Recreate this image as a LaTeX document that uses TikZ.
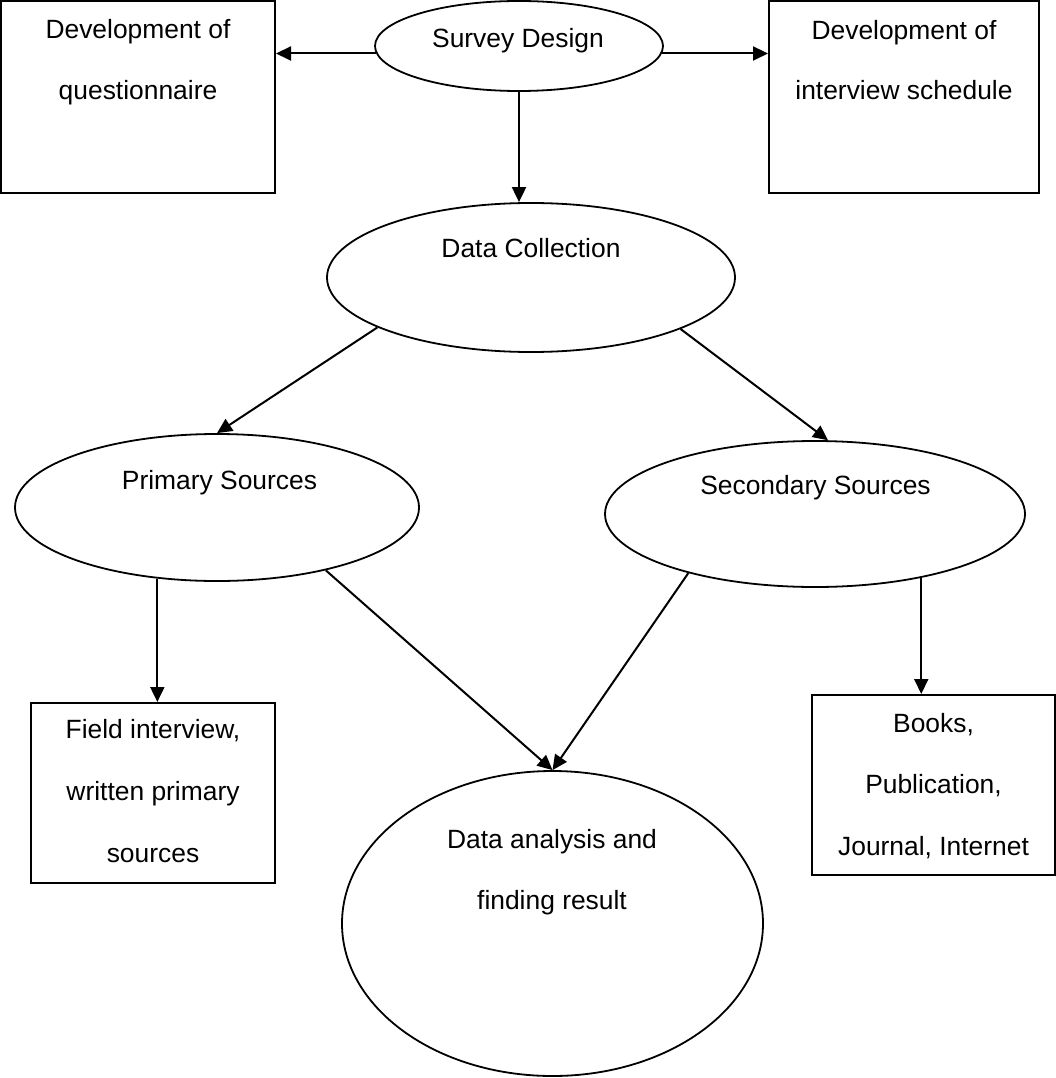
\documentclass[tikz,border=0pt]{standalone}
\usepackage{fontspec}
\setmainfont{Liberation Sans}
\usetikzlibrary{shapes.geometric,arrows.meta}
\begin{document}
\begin{tikzpicture}[x=1pt,y=1pt,
  boxnode/.style={draw,line width=2pt,inner sep=0pt,minimum width=#1},
  ellnode/.style={draw,ellipse,line width=1.8pt,inner sep=0pt},
  txt/.style={anchor=base,inner sep=0pt,font=\fontsize{26.4}{30}\selectfont},
  arr/.style={line width=2pt,-{Triangle[length=15pt,width=14pt]}}]
\useasboundingbox (0,0) rectangle (1056,-1078);
% boxes
\node[boxnode=274pt,minimum height=192pt] (q) at (138,-97) {};
\node[boxnode=270pt,minimum height=192pt] (iv) at (904,-97) {};
\node[boxnode=244pt,minimum height=180pt] (fb) at (153,-793) {};
\node[boxnode=243pt,minimum height=180pt] (bk) at (933.5,-785) {};
% ellipses
\node[ellnode,minimum width=288pt,minimum height=90pt] (sd) at (519,-46) {};
\node[ellnode,minimum width=408pt,minimum height=149pt] (dc) at (531,-277.5) {};
\node[ellnode,minimum width=404pt,minimum height=147pt] (ps) at (217,-507.5) {};
\node[ellnode,minimum width=420pt,minimum height=146pt] (ss) at (815,-514) {};
\node[ellnode,minimum width=421pt,minimum height=305pt] (da) at (552.5,-923.5) {};
% texts
\node[txt] (q1) at (138,-39) {Development of};
\node[txt] (q2) at (138,-100) {questionnaire};
\node[txt] (iv1) at (904,-40) {Development of};
\node[txt] (iv2) at (904,-100) {interview schedule};
\node[txt] (sdt) at (518,-48) {Survey Design};
\node[txt] (dct) at (531,-257) {Data Collection};
\node[txt] (pst) at (219.5,-489) {Primary Sources};
\node[txt] (sst) at (815.5,-494) {Secondary Sources};
\node[txt] (fb1) at (153,-738) {Field interview,};
\node[txt] (fb2) at (153,-800) {written primary};
\node[txt] (fb3) at (153,-862) {sources};
\node[txt] (bk1) at (933.5,-732) {Books,};
\node[txt] (bk2) at (933.5,-793) {Publication,};
\node[txt] (bk3) at (933.5,-855) {Journal, Internet};
\node[txt] (da1) at (552,-848) {Data analysis and};
\node[txt] (da2) at (552,-909) {finding result};
% connectors
\draw[arr] (sd.183) -- (sd.183 -| q.east);
\draw[arr] (sd.357) -- (sd.357 -| iv.west);
\draw[arr] (sd.south) -- (sd.south |- dc.north);
\draw[arr] (dc.198) -- (ps.north);
\draw[arr] (dc.341.5) -- (ss.80);
\draw[arr] (ps.230.5) -- (ps.230.5 |- fb.north);
\draw[arr] (ps.330) -- (da.north);
\draw[arr] (ss.205) -- (da.north);
\draw[arr] (ss.329) -- (ss.329 |- bk.north);
\end{tikzpicture}
\end{document}
